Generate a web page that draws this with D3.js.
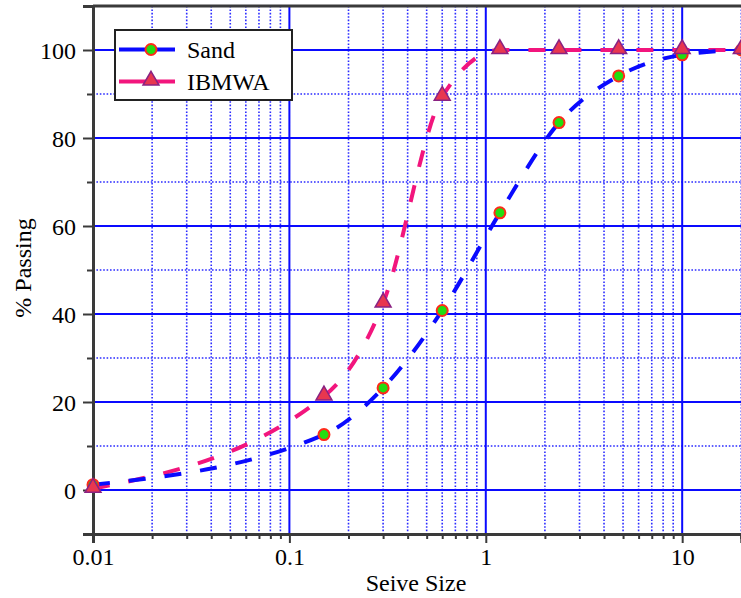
<!DOCTYPE html>
<html>
<head>
<meta charset="utf-8">
<script src="https://cdn.jsdelivr.net/npm/d3@7"></script>
<style>
  body { margin: 0; background: #fff; }
  svg text { font-family: "Liberation Serif", Tinos, "Times New Roman", Times, "DejaVu Serif", serif; fill: #000; }
</style>
</head>
<body>
<div id="chart"></div>
<script>
// sieve sizes (mm) and % passing
var sieveSizes = [0.01, 0.15, 0.3, 0.6, 1.18, 2.36, 4.75, 10, 20];
var sandPassing = [1.2, 12.6, 23.2, 40.8, 63, 83.5, 94.1, 98.9, 100];
var ibmwaPassing = [0.3, 21.3, 42.4, 89.4, 100, 100, 100, 100, 100];

var seriesNames = ["Sand", "IBMWA"];
var xTickLabels = [0.01, 0.1, 1, 10];
var yTickLabels = [0, 20, 40, 60, 80, 100];
var yMinorTicks = [-10, 10, 30, 50, 70, 90];

var width = 741, height = 598;
var blue = "#0a0aff", pink = "#f2157d";
var fontSize = 24;
var serif = "'Liberation Serif', Tinos, 'Times New Roman', Times, 'DejaVu Serif', serif";

var svg = d3.select("#chart")
    .append("svg")
    .attr("width", width)
    .attr("height", height)
    .attr("font-family", serif);

var x = d3.scaleLog()
    .domain([0.01, 20])
    .range([93, 741.3]);

var y = d3.scaleLinear()
    .domain([-10, 110])
    .range([534, 6]);

// minor x values: 2..9 of each decade
var xMinor = [];
[0.01, 0.1, 1, 10].forEach(function(dec) {
    for (var k = 2; k <= 9; k++) {
        var v = +(dec * k).toPrecision(3);
        if (v <= 20) xMinor.push(v);
    }
});
var xMajor = [0.1, 1, 10];

var grid = svg.append("g");

// dotted grid
grid.selectAll(".vminor")
    .data(xMinor)
    .enter().append("line")
    .attr("x1", d => x(d)).attr("x2", d => x(d))
    .attr("y1", y(110)).attr("y2", y(-10))
    .attr("stroke", "#2b2bff")
    .attr("stroke-width", 1.6)
    .attr("stroke-dasharray", "1.6,1.8");

grid.selectAll(".hminor")
    .data(yMinorTicks.filter(d => d > -10))
    .enter().append("line")
    .attr("x1", x(0.01)).attr("x2", width)
    .attr("y1", d => y(d)).attr("y2", d => y(d))
    .attr("stroke", "#2b2bff")
    .attr("stroke-width", 1.6)
    .attr("stroke-dasharray", "1.6,1.8");

// solid grid
grid.selectAll(".vmajor")
    .data(xMajor)
    .enter().append("line")
    .attr("x1", d => x(d)).attr("x2", d => x(d))
    .attr("y1", y(110)).attr("y2", y(-10))
    .attr("stroke", blue)
    .attr("stroke-width", 2);

grid.selectAll(".hmajor")
    .data(yTickLabels)
    .enter().append("line")
    .attr("x1", x(0.01)).attr("x2", width)
    .attr("y1", d => y(d)).attr("y2", d => y(d))
    .attr("stroke", blue)
    .attr("stroke-width", 2);

// axes
var axisColor = "#3a3a3a";

var xAxis = svg.append("g")
    .attr("transform", "translate(0," + y(-10) + ")")
    .call(d3.axisBottom(x).tickValues(xTickLabels).tickSize(9)
        .tickFormat(d => d3.format("")(d)));
var xAxisMinor = svg.append("g")
    .attr("transform", "translate(0," + y(-10) + ")")
    .call(d3.axisBottom(x).tickValues(xMinor).tickSize(5).tickFormat(""));

var yAxis = svg.append("g")
    .attr("transform", "translate(" + x(0.01) + ",0)")
    .call(d3.axisLeft(y).tickValues(yTickLabels).tickSize(10));
var yAxisMinor = svg.append("g")
    .attr("transform", "translate(" + x(0.01) + ",0)")
    .call(d3.axisLeft(y).tickValues(yMinorTicks).tickSize(6).tickFormat(""));

[xAxis, xAxisMinor, yAxis, yAxisMinor].forEach(function(g) {
    g.attr("font-family", serif).attr("font-size", fontSize);
    g.select(".domain").attr("stroke", axisColor).attr("stroke-width", 3);
    g.selectAll(".tick line").attr("stroke", axisColor).attr("stroke-width", 2);
    g.selectAll(".tick text").attr("fill", "#000");
});
xAxis.selectAll(".tick text").attr("dy", null).attr("y", 31);
yAxis.selectAll(".tick text").attr("x", -17).attr("dy", "0.35em");

// top border
svg.append("line")
    .attr("x1", x(0.01)).attr("x2", width)
    .attr("y1", y(110)).attr("y2", y(110))
    .attr("stroke", axisColor)
    .attr("stroke-width", 3);

// axis titles
svg.append("text")
    .attr("transform", "translate(31," + 268 + ") rotate(-90)")
    .style("text-anchor", "middle")
    .attr("font-size", fontSize)
    .text("% Passing");

svg.append("text")
    .attr("x", 416)
    .attr("y", 591)
    .style("text-anchor", "middle")
    .attr("font-size", fontSize)
    .text("Seive Size");

// series
var sandData = sieveSizes.map((s, i) => ({size: s, value: sandPassing[i]}));
var ibmwaData = sieveSizes.map((s, i) => ({size: s, value: ibmwaPassing[i]}));

var line = d3.line()
    .x(d => x(d.size))
    .y(d => y(d.value))
    .curve(d3.curveMonotoneX);

svg.append("path")
    .datum(ibmwaData)
    .attr("fill", "none")
    .attr("stroke", pink)
    .attr("stroke-width", 4)
    .attr("stroke-dasharray", "17,19")
    .attr("d", line);

svg.append("path")
    .datum(sandData)
    .attr("fill", "none")
    .attr("stroke", blue)
    .attr("stroke-width", 4)
    .attr("stroke-dasharray", "17,19")
    .attr("d", line);

var circleSym = d3.symbol().type(d3.symbolCircle).size(95);
var triSym = d3.symbol().type(d3.symbolTriangle).size(110);

svg.selectAll(".sand-dot")
    .data(sandData)
    .enter().append("path")
    .attr("transform", d => "translate(" + x(d.size) + "," + y(d.value) + ")")
    .attr("d", circleSym)
    .attr("fill", "#22dd11")
    .attr("stroke", "#ff2a1a")
    .attr("stroke-width", 2);

svg.selectAll(".ibmwa-dot")
    .data(ibmwaData)
    .enter().append("path")
    .attr("transform", d => "translate(" + x(d.size) + "," + (y(d.value) - 1) + ")")
    .attr("d", triSym)
    .attr("fill", "#e8374f")
    .attr("stroke", "#8a2282")
    .attr("stroke-width", 1.5);

// legend
var legend = svg.append("g");
legend.append("rect")
    .attr("x", 115).attr("y", 30)
    .attr("width", 177).attr("height", 70)
    .attr("fill", "#fff")
    .attr("stroke", "#222")
    .attr("stroke-width", 2);

var legendColors = [blue, pink];
seriesNames.forEach(function(name, i) {
    var ly = 49.5 + i * 32;
    legend.append("line")
        .attr("x1", 119).attr("x2", 175)
        .attr("y1", ly).attr("y2", ly)
        .attr("stroke", legendColors[i])
        .attr("stroke-width", 4);
    legend.append("path")
        .attr("transform", "translate(151," + (i === 0 ? ly : ly - 1) + ")")
        .attr("d", i === 0 ? circleSym : triSym)
        .attr("fill", i === 0 ? "#22dd11" : "#e8374f")
        .attr("stroke", i === 0 ? "#ff2a1a" : "#8a2282")
        .attr("stroke-width", i === 0 ? 2 : 1.5);
    legend.append("text")
        .attr("x", 187)
        .attr("y", ly + 8.5)
        .attr("font-size", fontSize)
        .text(name);
});
</script>
</body>
</html>
